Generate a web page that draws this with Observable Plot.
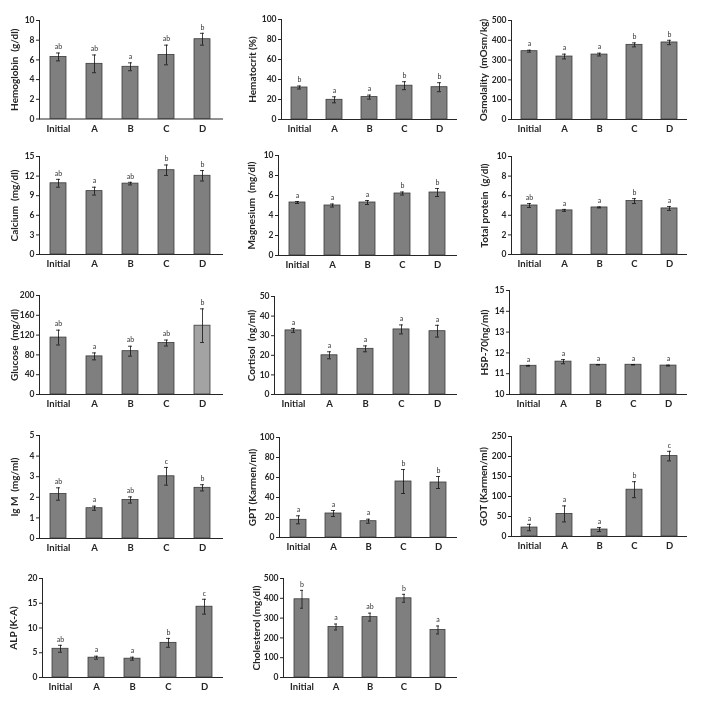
<!DOCTYPE html>
<html><head><meta charset="utf-8">
<script src="https://cdn.jsdelivr.net/npm/d3@7"></script>
<script src="https://cdn.jsdelivr.net/npm/@observablehq/plot@0.6"></script>
<style>
body{margin:0;background:#fff;}
#page{position:relative;width:709px;height:702px;overflow:hidden;background:#fff;}
#page svg{position:absolute;overflow:visible;will-change:transform;}
#page g[aria-label="y-axis label"] text{font-size:10px;}
#page g[aria-label="x-axis tick label"] text{font-size:9.5px;}
</style></head><body><div id="page"></div>
<script>
const groups = ["Initial", "A", "B", "C", "D"];

const hemoglobin = [6.3, 5.6, 5.3, 6.5, 8.1];
const hemoglobinErr = [0.4, 0.9, 0.4, 1.0, 0.6];
const hemoglobinSig = ["ab", "ab", "a", "ab", "b"];

const hematocrit = [32, 19.7, 22.4, 33.8, 32.3];
const hematocritErr = [1.5, 3, 2, 4, 4.5];
const hematocritSig = ["b", "a", "a", "b", "b"];

const osmolality = [345, 318, 328, 377, 389];
const osmolalityErr = [5, 12, 7, 10, 11];
const osmolalitySig = ["a", "a", "a", "b", "b"];

const calcium = [10.9, 9.7, 10.85, 12.9, 12.05];
const calciumErr = [0.6, 0.6, 0.2, 0.8, 0.8];
const calciumSig = ["ab", "a", "ab", "b", "b"];

const magnesium = [5.3, 5.0, 5.3, 6.2, 6.3];
const magnesiumErr = [0.1, 0.15, 0.2, 0.15, 0.4];
const magnesiumSig = ["a", "a", "a", "b", "b"];

const totalProtein = [5.0, 4.5, 4.8, 5.45, 4.7];
const totalProteinErr = [0.2, 0.1, 0.05, 0.25, 0.2];
const totalProteinSig = ["ab", "a", "a", "b", "a"];

const glucose = [115, 77, 87.5, 104, 139];
const glucoseErr = [15, 7, 10, 6, 34];
const glucoseSig = ["ab", "a", "ab", "ab", "b"];

const cortisol = [32.7, 20, 23.3, 33.2, 32.3];
const cortisolErr = [1, 1.8, 1.5, 2.3, 3];
const cortisolSig = ["a", "a", "a", "a", "a"];

const hsp70 = [11.38, 11.58, 11.43, 11.43, 11.39];
const hsp70Err = [0.02, 0.1, 0.01, 0.01, 0.02];
const hsp70Sig = ["a", "a", "a", "a", "a"];

const igm = [2.16, 1.47, 1.87, 3.02, 2.46];
const igmErr = [0.3, 0.1, 0.15, 0.43, 0.15];
const igmSig = ["ab", "a", "ab", "c", "b"];

const gpt = [17.7, 24, 16.3, 56, 55];
const gptErr = [4, 3, 2, 12, 6];
const gptSig = ["a", "a", "a", "b", "b"];

const got = [22.4, 56.5, 17.4, 117, 201];
const gotErr = [8, 20, 5, 20, 12];
const gotSig = ["a", "a", "a", "b", "c"];

const alp = [5.8, 4.0, 3.8, 7.0, 14.3];
const alpErr = [0.7, 0.3, 0.3, 0.9, 1.5];
const alpSig = ["ab", "a", "a", "b", "c"];

const cholesterol = [395, 255, 305, 400, 240];
const cholesterolErr = [45, 15, 20, 20, 20];
const cholesterolSig = ["b", "a", "ab", "b", "a"];

// panel definitions: label, values, domain, ticks
const panels = [
  {label: "Hemoglobin  (g/dl)", v: hemoglobin, e: hemoglobinErr, s: hemoglobinSig, domain: [0, 10], ticks: [0, 2, 4, 6, 8, 10]},
  {label: "Hematocrit (%)", v: hematocrit, e: hematocritErr, s: hematocritSig, domain: [0, 100], ticks: [0, 20, 40, 60, 80, 100]},
  {label: "Osmolality  (mOsm/kg)", v: osmolality, e: osmolalityErr, s: osmolalitySig, domain: [0, 500], ticks: [0, 100, 200, 300, 400, 500]},
  {label: "Calcium  (mg/dl)", v: calcium, e: calciumErr, s: calciumSig, domain: [0, 15], ticks: [0, 3, 6, 9, 12, 15]},
  {label: "Magnesium  (mg/dl)", v: magnesium, e: magnesiumErr, s: magnesiumSig, domain: [0, 10], ticks: [0, 2, 4, 6, 8, 10]},
  {label: "Total protein  (g/dl)", v: totalProtein, e: totalProteinErr, s: totalProteinSig, domain: [0, 10], ticks: [0, 2, 4, 6, 8, 10]},
  {label: "Glucose  (mg/dl)", v: glucose, e: glucoseErr, s: glucoseSig, domain: [0, 200], ticks: [0, 40, 80, 120, 160, 200]},
  {label: "Cortisol  (ng/ml)", v: cortisol, e: cortisolErr, s: cortisolSig, domain: [0, 50], ticks: [0, 10, 20, 30, 40, 50]},
  {label: "HSP-70(ng/ml)", v: hsp70, e: hsp70Err, s: hsp70Sig, domain: [10, 15], ticks: [10, 11, 12, 13, 14, 15]},
  {label: "Ig M  (mg/ml)", v: igm, e: igmErr, s: igmSig, domain: [0, 5], ticks: [0, 1, 2, 3, 4, 5]},
  {label: "GPT (Karmen/ml)", v: gpt, e: gptErr, s: gptSig, domain: [0, 100], ticks: [0, 20, 40, 60, 80, 100]},
  {label: "GOT (Karmen/ml)", v: got, e: gotErr, s: gotSig, domain: [0, 250], ticks: [0, 50, 100, 150, 200, 250]},
  {label: "ALP (K-A)", v: alp, e: alpErr, s: alpSig, domain: [0, 20], ticks: [0, 5, 10, 15, 20]},
  {label: "Cholesterol (mg/dl)", v: cholesterol, e: cholesterolErr, s: cholesterolSig, domain: [0, 500], ticks: [0, 100, 200, 300, 400, 500]}
];

// layout (pixels): axis x, y-label centre x, top of y range, zero line, column left/right end
const layout = [
  {left: 0, axis: 39, lab: 15, end: 222, top: 20, zero: 118.5},
  {left: 240, axis: 281, lab: 253, end: 456, top: 19, zero: 119},
  {left: 470, axis: 511, lab: 484, end: 686, top: 20, zero: 119},
  {left: 0, axis: 39, lab: 15, end: 222, top: 156, zero: 254},
  {left: 240, axis: 278, lab: 252, end: 456, top: 155, zero: 255},
  {left: 470, axis: 511, lab: 485, end: 686, top: 156, zero: 254},
  {left: 0, axis: 39, lab: 15, end: 222, top: 295, zero: 394},
  {left: 240, axis: 274, lab: 252, end: 456, top: 296, zero: 394},
  {left: 470, axis: 509, lab: 485, end: 686, top: 290, zero: 394},
  {left: 0, axis: 39, lab: 15, end: 222, top: 435, zero: 538},
  {left: 240, axis: 279, lab: 253, end: 456, top: 437, zero: 537},
  {left: 470, axis: 511, lab: 484, end: 686, top: 436, zero: 536},
  {left: 0, axis: 42, lab: 14, end: 222, top: 578, zero: 677},
  {left: 240, axis: 283, lab: 257, end: 456, top: 578, zero: 677}
];

const page = document.getElementById("page");

panels.forEach((p, i) => {
  const L = layout[i];
  const rows = groups.map((g, k) => ({g, v: p.v[k], e: p.e[k], s: p.s[k], hi: (i === 6 && k === 4)}));
  const lo = p.domain[0];
  const mt = 10, mb = 22;
  const width = L.end - L.left + 4;
  const height = (L.zero - L.top) + mt + mb;
  const svg = Plot.plot({
    width, height,
    marginLeft: L.axis - L.left,
    marginRight: 4,
    marginTop: mt,
    marginBottom: mb,
    style: {fontFamily: "Lato, 'Open Sans', sans-serif", fontSize: "8.5px", fontWeight: "bold", color: "#262626", background: "transparent"},
    x: {domain: groups, paddingInner: 0.55, paddingOuter: 0.25, label: null, tickSize: 0, tickPadding: 6, line: true},
    y: {domain: p.domain, ticks: p.ticks, tickFormat: d => String(d), label: p.label, labelAnchor: "center", labelOffset: L.axis - L.lab + 5, labelArrow: "none", tickSize: 3, tickPadding: 2, line: true},
    marks: [
      Plot.barY(rows, {x: "g", y1: lo, y2: "v", fill: d => d.hi ? "#a3a3a3" : "#7f7f7f", stroke: "#3a3a3a", strokeWidth: 0.8}),
      Plot.ruleX(rows, {x: "g", y1: d => d.v - d.e, y2: d => d.v + d.e, stroke: "#111", strokeWidth: 0.8}),
      Plot.tickY(rows, {x: "g", y: d => d.v + d.e, stroke: "#111", strokeWidth: 0.8, inset: 6}),
      Plot.tickY(rows, {x: "g", y: d => d.v - d.e, stroke: "#111", strokeWidth: 0.8, inset: 6}),
      Plot.text(rows, {x: "g", y: d => d.v + d.e, text: "s", dy: -6, fontSize: 7, fontWeight: "normal", fill: "#333"})
    ]
  });
  svg.style.left = L.left + "px";
  svg.style.top = (L.top - mt) + "px";
  page.appendChild(svg);
});
</script>
</body></html>
